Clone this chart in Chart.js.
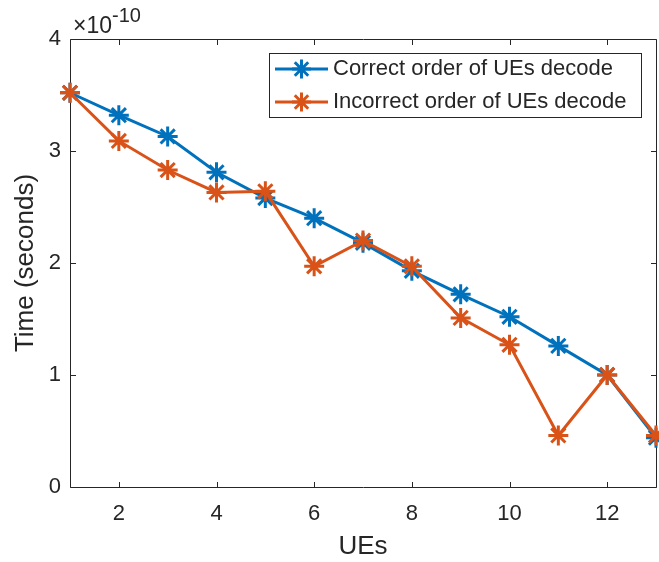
<!DOCTYPE html>
<html>
<head>
<meta charset="utf-8">
<script src="https://cdn.jsdelivr.net/npm/chart.js@4.4.1/dist/chart.umd.min.js"></script>
<style>
  html, body { margin: 0; padding: 0; background: #ffffff; }
  #wrap { width: 659px; height: 562px; }
</style>
</head>
<body>
<div id="wrap"><canvas id="c" width="659" height="562"></canvas></div>
<script>
// Number of UEs on the x axis
const ues = [1, 2, 3, 4, 5, 6, 7, 8, 9, 10, 11, 12, 13];
// Decode time, in units of 1e-10 seconds
const correctOrder   = [3.52, 3.32, 3.13, 2.81, 2.58, 2.40, 2.18, 1.93, 1.72, 1.52, 1.26, 1.00, 0.44];
const incorrectOrder = [3.52, 3.09, 2.83, 2.63, 2.64, 1.97, 2.20, 1.97, 1.51, 1.27, 0.46, 1.00, 0.46];

const seriesNames  = ['Correct order of UEs decode', 'Incorrect order of UEs decode'];
const seriesColors = ['#0072BD', '#D95319'];

const xTickValues = [2, 4, 6, 8, 10, 12];
const yTickValues = [0, 1, 2, 3, 4];
const xTitle = 'UEs';
const yTitle = 'Time (seconds)';
const yExponent = '-10';

const FONT = "'Liberation Sans', Arial, Helvetica, sans-serif";
const INK = '#262626';

function toPoints(values) {
  return ues.map((u, i) => ({ x: u, y: values[i] }));
}

// Axes box with inward ticks on all four sides, drawn beneath the lines
const axesBox = {
  id: 'axesBox',
  beforeDatasetsDraw(chart) {
    const { ctx, chartArea: a, scales } = chart;
    const L = Math.round(a.left) + 0.5, R = Math.round(a.right) + 0.5;
    const T = Math.round(a.top) + 0.5, B = Math.round(a.bottom) + 0.5;
    const len = 5.5;
    ctx.save();
    ctx.strokeStyle = INK;
    ctx.lineWidth = 1;
    ctx.beginPath();
    ctx.rect(L, T, R - L, B - T);
    xTickValues.forEach(v => {
      const px = Math.round(scales.x.getPixelForValue(v)) + 0.5;
      ctx.moveTo(px, B); ctx.lineTo(px, B - len);
      ctx.moveTo(px, T); ctx.lineTo(px, T + len);
    });
    yTickValues.forEach(v => {
      const py = Math.round(scales.y.getPixelForValue(v)) + 0.5;
      ctx.moveTo(L, py); ctx.lineTo(L + len, py);
      ctx.moveTo(R, py); ctx.lineTo(R - len, py);
    });
    ctx.stroke();
    ctx.restore();
  },
  afterDraw(chart) {
    const { ctx, chartArea: a } = chart;
    ctx.save();
    ctx.fillStyle = INK;
    ctx.textBaseline = 'alphabetic';
    // y-axis exponent label
    ctx.font = `23px ${FONT}`;
    ctx.textAlign = 'left';
    const base = '\u00D710';
    ctx.fillText(base, a.left + 3, 33);
    const w = ctx.measureText(base).width;
    ctx.font = `20px ${FONT}`;
    ctx.fillText(yExponent, a.left + 3 + w, 22);

    // legend
    const bx = 269.5, by = 53.5, bw = 372, bh = 64;
    ctx.fillStyle = '#ffffff';
    ctx.fillRect(bx, by, bw, bh);
    ctx.strokeStyle = INK;
    ctx.lineWidth = 1;
    ctx.strokeRect(bx, by, bw, bh);
    const rows = [69, 102];
    seriesNames.forEach((name, i) => {
      const y = rows[i];
      ctx.strokeStyle = seriesColors[i];
      ctx.lineWidth = 3;
      ctx.beginPath();
      ctx.moveTo(275, y); ctx.lineTo(328, y);
      ctx.stroke();
      Chart.helpers.drawPoint(ctx, { pointStyle: 'star', radius: 9.5, borderWidth: 3 }, 301.5, y);
      ctx.fillStyle = INK;
      ctx.font = `22px ${FONT}`;
      ctx.textBaseline = 'middle';
      ctx.textAlign = 'left';
      ctx.fillText(name, 333, y);
    });
    ctx.restore();
  }
};

const dataset = (i, values, order) => ({
  label: seriesNames[i],
  data: toPoints(values),
  borderColor: seriesColors[i],
  backgroundColor: seriesColors[i],
  borderWidth: 3,
  pointStyle: 'star',
  pointRadius: 10,
  pointBorderWidth: 3,
  pointBorderColor: seriesColors[i],
  pointBackgroundColor: seriesColors[i],
  tension: 0,
  clip: false,
  order: order
});

new Chart(document.getElementById('c'), {
  type: 'line',
  data: {
    datasets: [
      dataset(0, correctOrder, 1),
      dataset(1, incorrectOrder, 0)
    ]
  },
  options: {
    responsive: false,
    animation: false,
    devicePixelRatio: 1,
    layout: { autoPadding: false, padding: { top: 39, right: 3, left: 0, bottom: 0 } },
    plugins: { legend: { display: false }, tooltip: { enabled: false } },
    scales: {
      x: {
        type: 'linear',
        min: 1,
        max: 13,
        afterBuildTicks: s => { s.ticks = xTickValues.map(v => ({ value: v })); },
        afterFit: s => { s.height = 75; s.paddingLeft = 0; s.paddingRight = 0; },
        grid: { display: false, drawTicks: false },
        border: { display: false },
        ticks: { color: INK, font: { family: FONT, size: 22 }, padding: 14, maxRotation: 0, autoSkip: false },
        title: { display: true, text: xTitle, color: INK, font: { family: FONT, size: 26 }, padding: { top: 0, bottom: 0 } }
      },
      y: {
        type: 'linear',
        min: 0,
        max: 4,
        afterBuildTicks: s => { s.ticks = yTickValues.map(v => ({ value: v })); },
        afterFit: s => { s.width = 70; s.paddingTop = 0; s.paddingBottom = 0; },
        grid: { display: false, drawTicks: false },
        border: { display: false },
        ticks: { color: INK, font: { family: FONT, size: 22 }, padding: 9, autoSkip: false },
        title: { display: true, text: yTitle, color: INK, font: { family: FONT, size: 26 }, padding: { top: 10, bottom: 0 } }
      }
    }
  },
  plugins: [axesBox]
});
</script>
</body>
</html>
